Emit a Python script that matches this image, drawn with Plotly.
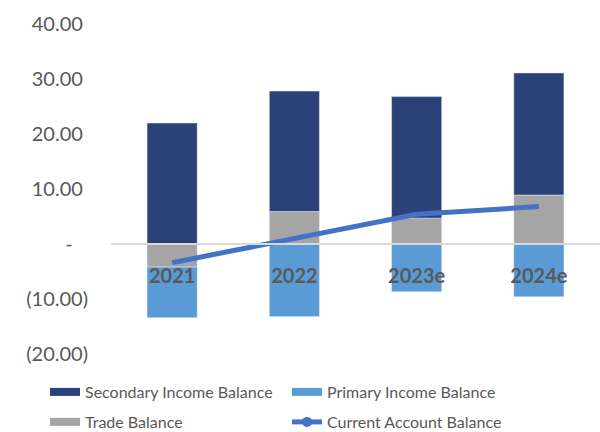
import plotly.graph_objects as go

# Balance of payments components (USD bn)
years = ["2021", "2022", "2023e", "2024e"]
trade_balance = [-4.2, 5.9, 4.7, 8.9]
primary_income = [-9.2, -13.2, -8.7, -9.6]
secondary_income = [22.0, 21.9, 22.1, 22.2]
current_account = [-3.4, 1.1, 5.4, 6.8]

y_tick_vals = [-20, -10, 0, 10, 20, 30, 40]
y_tick_text = ["(20.00)", "(10.00)", "-\u00a0\u00a0\u00a0", "10.00\u00a0", "20.00\u00a0", "30.00\u00a0", "40.00\u00a0"]

C_SECONDARY = "#2b4279"
C_PRIMARY = "#5b9bd5"
C_TRADE = "#a5a5a5"
C_CA = "#4472c4"
TEXT = "#595959"
FONT = "Lato"

fig = go.Figure()

# stacked bars (trade first so it sits next to the zero line)
fig.add_trace(go.Bar(x=years, y=trade_balance, marker_color=C_TRADE, showlegend=False))
fig.add_trace(go.Bar(x=years, y=primary_income, marker_color=C_PRIMARY, showlegend=False))
fig.add_trace(go.Bar(x=years, y=secondary_income, marker_color=C_SECONDARY, showlegend=False))
fig.add_trace(go.Scatter(x=years, y=current_account, mode="lines",
                         line=dict(color=C_CA, width=5), showlegend=False))

# legend entries drawn as wide swatches
def swatch(name, color, legend, marker=False):
    fig.add_trace(go.Scatter(
        x=[None], y=[None], name=name, legend=legend,
        mode="lines+markers" if marker else "lines",
        line=dict(color=color, width=5 if marker else 8),
        marker=dict(size=10, color=color),
    ))

swatch("Secondary Income Balance", C_SECONDARY, "legend")
swatch("Primary Income Balance", C_PRIMARY, "legend")
swatch("Trade Balance", C_TRADE, "legend2")
swatch("Current Account Balance", C_CA, "legend2", marker=True)

legend_common = dict(
    orientation="h", xref="container", yref="container",
    x=0.075, xanchor="left", yanchor="middle",
    font=dict(family=FONT, size=16, color=TEXT),
    entrywidth=197, entrywidthmode="pixels",
    bgcolor="rgba(0,0,0,0)",
)

fig.update_layout(
    width=600, height=432,
    margin=dict(l=111, r=0, t=24, b=78, autoexpand=False),
    paper_bgcolor="white", plot_bgcolor="white",
    barmode="relative", bargap=0.59,
    font=dict(family=FONT, color=TEXT),
    legend=dict(y=(432 - 392) / 432, **legend_common),
    legend2=dict(y=(432 - 422) / 432, **legend_common),
    xaxis=dict(
        anchor="free", position=1 / 3,
        showline=True, linecolor="#d9d9d9", linewidth=2,
        showgrid=False, zeroline=False, ticks="",
        tickfont=dict(family=FONT, size=20, color=TEXT, weight="bold"),
        ticklabelstandoff=14, layer="above traces",
    ),
    yaxis=dict(
        range=[-20, 40], tickvals=y_tick_vals, ticktext=y_tick_text,
        showgrid=False, zeroline=False, showline=False, ticks="",
        tickfont=dict(family=FONT, size=20, color=TEXT),
        ticklabelstandoff=22,
    ),
)

fig.write_html("out.html")
